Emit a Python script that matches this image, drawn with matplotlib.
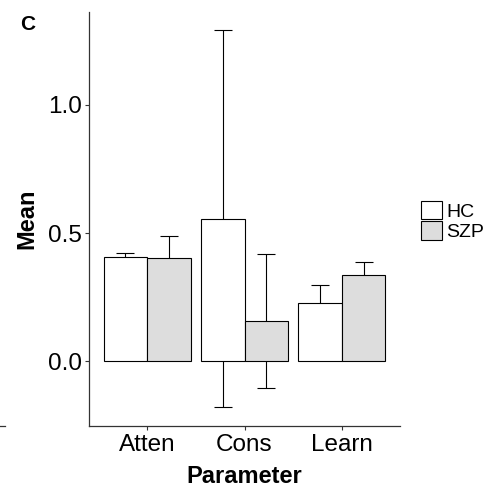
import numpy as np
import matplotlib.pyplot as plt
from matplotlib.patches import Patch
from matplotlib.lines import Line2D

plt.rcParams['font.family'] = ['Liberation Sans', 'DejaVu Sans']

params = ["Atten", "Cons", "Learn"]
groups = ["HC", "SZP"]
hc_mean = [0.406, 0.556, 0.226]
hc_err = [0.017, 0.735, 0.072]
szp_mean = [0.404, 0.157, 0.335]
szp_err = [0.084, 0.260, 0.051]
colors = ["white", "#DDDDDD"]

fig = plt.figure(figsize=(4.97, 4.91), dpi=100)
ax = fig.add_axes([89/497, 65/491, 311/497, 414/491])

x = np.arange(1, len(params) + 1)
w = 0.45
for off, m, e, c in [(-w/2, hc_mean, hc_err, colors[0]), (w/2, szp_mean, szp_err, colors[1])]:
    ax.errorbar(x + off, m, yerr=e, fmt="none", ecolor="black", elinewidth=0.8,
                capsize=6.8, capthick=0.8, zorder=1)
    ax.bar(x + off, m, width=w, color=c, edgecolor="black", linewidth=0.8, zorder=2)

ax.set_xlim(0.4, 3.6)
ax.set_ylim(-0.251, 1.36)
ax.set_xticks(x)
ax.set_xticklabels(params)
ax.set_yticks([0.0, 0.5, 1.0])
ax.set_yticklabels(["0.0", "0.5", "1.0"])
ax.tick_params(labelsize=17.5, length=3, width=0.8, color="#333333", pad=3)
ax.tick_params(axis="y", pad=2)
for s in ["top", "right"]:
    ax.spines[s].set_visible(False)
for s in ["left", "bottom"]:
    ax.spines[s].set_color("#333333")
    ax.spines[s].set_linewidth(0.9)

ax.set_xlabel("Parameter", fontsize=17, fontweight="bold", labelpad=6)
ax.set_ylabel("Mean", fontsize=17, fontweight="bold", labelpad=7)

handles = [Patch(facecolor=c, edgecolor="black", linewidth=0.8) for c in colors]
fig.legend(handles, groups, loc="center left", bbox_to_anchor=(421/497, 1 - 221/491),
           frameon=False, fontsize=14, handlelength=1.1, handleheight=1.1,
           handletextpad=0.2, labelspacing=0.05, borderaxespad=0, borderpad=0)

fig.text(20/497, 1 - 24/491, "C", fontsize=15, fontweight="bold", va="center")
fig.add_artist(Line2D([0, 5/497], [65/491, 65/491], color="#333333", lw=0.9))

fig.savefig("out.png", dpi=100)
